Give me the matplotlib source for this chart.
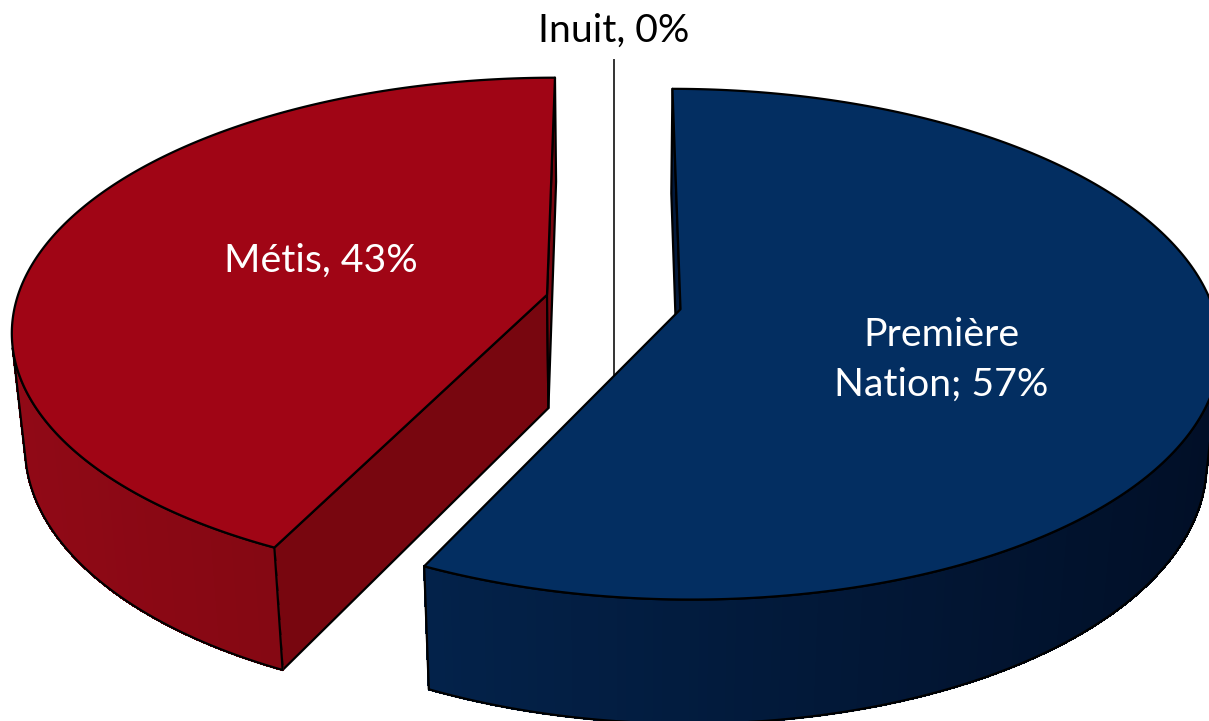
import numpy as np
import matplotlib
matplotlib.use('Agg')
import matplotlib.pyplot as plt
from matplotlib.colors import to_rgb
from matplotlib.patches import Polygon

categories = ['Première Nation', 'Métis', 'Inuit']
shares = [57.2, 42.8, 0]

top_colors = ['#032E61', '#A00515']
cut_colors = ['#03193A', '#78060F']
side_left = ['#03224A', '#900916']
side_right = ['#010F27', '#78060F']

# camera of the fake 3D pie
CX, CY = 613.5, 302
A, B, P = 248.6, 531, 0.1364
DEPTH, SHRINK = 116, 0.022
EXPLODE = 0.129


def project(px, py, lower=False):
    w = 1 + P * py + (SHRINK if lower else 0)
    x = CX + B * px / w
    y = CY + (-A * py + (DEPTH if lower else 0)) / w
    return np.column_stack([x, y])


def area(pts):
    x, y = pts[:, 0], pts[:, 1]
    return 0.5 * np.sum(x * np.roll(y, -1) - np.roll(x, -1) * y)


def mix(c1, c2, t):
    return tuple((1 - t) * a + t * b for a, b in zip(to_rgb(c1), to_rgb(c2)))


def draw_wedge(ax, start, stop, idx):
    mid = np.radians((start + stop) / 2)
    ox, oy = EXPLODE * np.sin(mid), EXPLODE * np.cos(mid)
    th = np.radians(np.linspace(start, stop, 241))
    px, py = ox + np.sin(th), oy + np.cos(th)

    arc_top = project(px, py)
    arc_low = project(px, py, True)
    apex_top = project(np.array([ox]), np.array([oy]))
    apex_low = project(np.array([ox]), np.array([oy]), True)

    # flat cut faces, only the ones turned to the viewer
    for i in [0, -1]:
        face = np.vstack([apex_top, arc_top[i], arc_low[i], apex_low])
        if i == -1:
            face = face[::-1]
        if area(face) < 0:
            ax.add_patch(Polygon(face, closed=True, fc=cut_colors[idx], ec='black', lw=1.6, joinstyle='round', zorder=2))

    # outer wall in thin strips, gives the gradient
    x0, x1 = arc_low[:, 0].min(), arc_low[:, 0].max()
    vis = []
    for i in range(len(th) - 1):
        quad = np.vstack([arc_top[i], arc_top[i + 1], arc_low[i + 1], arc_low[i]])
        if area(quad) < 0:
            vis.append(i)
            t = (quad[:, 0].mean() - x0) / (x1 - x0)
            col = mix(side_left[idx], side_right[idx], t)
            ax.add_patch(Polygon(quad, closed=True, fc=col, ec=col, lw=1.0, antialiased=False, zorder=3))
    if vis:
        a, b = vis[0], vis[-1] + 2
        wall = np.vstack([arc_top[a:b], arc_low[a:b][::-1]])
        ax.add_patch(Polygon(wall, closed=True, fill=False, ec='black', lw=1.6, joinstyle='round', zorder=4))

    top = np.vstack([apex_top, arc_top])
    ax.add_patch(Polygon(top, closed=True, fc=top_colors[idx], ec='black', lw=1.6, joinstyle='round', zorder=5))


fig = plt.figure(figsize=(12.09, 7.21), dpi=100)
ax = fig.add_axes([0, 0, 1, 1])
ax.set_xlim(0, 1209)
ax.set_ylim(721, 0)
ax.axis('off')

edges = np.cumsum([0] + shares) * 3.6
draw_wedge(ax, edges[0], edges[1], 0)
draw_wedge(ax, edges[1], edges[2], 1)

# Inuit has no slice, only the leader line
ax.plot([613.5, 613.5], [60, 377], color='#333333', lw=1.4, zorder=1)

plt.rcParams['font.family'] = ['Lato', 'DejaVu Sans']
fs = 28.3
ax.text(613.5, 31, f'{categories[2]}, {shares[2]:.0f}%', color='black', fontsize=fs, ha='center', va='center', zorder=6)
ax.text(321, 261, f'{categories[1]}, {shares[1]:.0f}%', color='white', fontsize=fs, ha='center', va='center', zorder=6)
ax.text(941, 360, f'Première\nNation; {shares[0]:.0f}%', color='white', fontsize=fs, ha='center', va='center',
        linespacing=1.47, zorder=6)

fig.savefig('out.png', dpi=100)
